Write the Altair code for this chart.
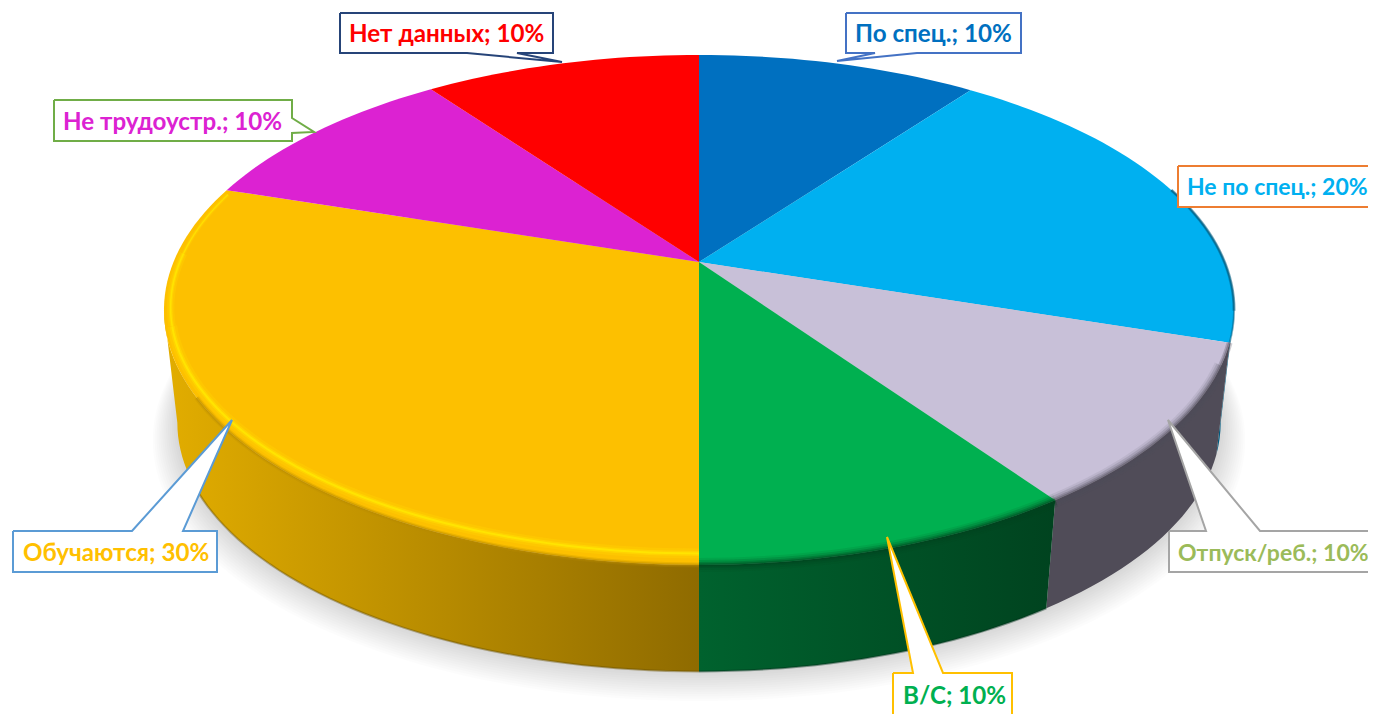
import math
import altair as alt
import pandas as pd

categories = ["По спец.", "Не по спец.", "Отпуск/реб.", "В/С", "Обучаются", "Не трудоустр.", "Нет данных"]
label_values = [10, 20, 10, 10, 30, 10, 10]
shares = [10.14, 19.86, 10.28, 9.72, 30.0, 10.0, 10.0]
face_colors = ["#0070c0", "#00b0f0", "#c8c0d8", "#00b050", "#fdc000", "#dc22d2", "#ff0000"]
wall_left = ["#005a9a", "#005c80", "#504c58", "#00622e", "#e2ad00", "#8a1a80", "#a00000"]
wall_right = ["#005a9a", "#005c80", "#504c58", "#00431f", "#8f6b00", "#8a1a80", "#a00000"]
text_colors = ["#0070c0", "#00b0f0", "#9bbb59", "#00b050", "#ffc000", "#dc22d2", "#ff0000"]
box_colors = ["#4472c4", "#ed7d31", "#a5a5a5", "#ffc000", "#5b9bd5", "#70ad47", "#264478"]

# Layout of the callouts: outline (box + pointer), text start and size
callouts = [
    [(846, 13), (1021, 13), (1021, 53), (917, 53), (837, 61), (875, 53), (846, 53)],
    [(1178, 166), (1380, 166), (1380, 207), (1178, 207)],
    [(1169, 531), (1206, 531), (1168, 420), (1260, 531), (1380, 531), (1380, 572), (1169, 572)],
    [(893, 673), (913, 673), (887, 537), (943, 673), (1012, 673), (1012, 720), (893, 720)],
    [(13, 531), (132, 531), (232, 420), (183, 531), (217, 531), (217, 572), (13, 572)],
    [(54, 100), (292, 100), (292, 118), (314, 132), (292, 133), (292, 141), (54, 141)],
    [(340, 13), (553, 13), (553, 53), (517, 53), (562, 62), (467, 53), (340, 53)],
]
text_x = [855, 1187, 1178, 903, 23, 63, 349]
text_y = [34.5, 188, 553.5, 696.5, 553.5, 122.5, 34.5]
text_size = [24.2, 23, 23, 24.2, 24.2, 24.2, 24.2]

# Perspective of the disc
CX, CY, A, B, P = 699, 262, 525.5, 246, 0.188
WALL_S, WALL_D = 0.975, 114
# angle of the outermost point of the disc on each side
SIDE = math.degrees(math.acos(-P))


def project(deg, r=1.0, s=1.0, dy=0.0):
    t = math.radians(deg)
    u, v = r * math.sin(t), r * math.cos(t)
    w = 1 + P * v
    return CX + A * s * u / w, CY + dy - B * s * v / w


def arc(d0, d1, r=1.0, s=1.0, dy=0.0, front_lift=0.0):
    n = max(2, int(abs(d1 - d0) / 1.5) + 1)
    out = []
    for i in range(n):
        d = d0 + (d1 - d0) * i / (n - 1)
        lift = front_lift * max(0.0, -math.cos(math.radians(d)))
        out.append(project(d, r, s, dy - lift))
    return out


XS = alt.X("x:Q", scale=alt.Scale(domain=[8, 1368], nice=False, zero=False), axis=None)
YS = alt.Y("y:Q", scale=alt.Scale(domain=[714, 8], nice=False, zero=False), axis=None)


def frame(points):
    return pd.DataFrame([{"x": x, "y": y, "i": i} for i, (x, y) in enumerate(points)])


def poly(points, **mark):
    return alt.Chart(frame(points)).mark_line(clip=True, **mark).encode(x=XS, y=YS, order=alt.Order("i:Q"))


layers = []

# soft shadow under the disc
for k in range(13, 0, -1):
    pts = arc(0, 360, 1.0 + k * 0.0035, WALL_S, WALL_D + k * 1.0)
    layers.append(poly(pts + pts[:1], fill="#000000", fillOpacity=0.012, strokeWidth=0, opacity=1))

total = sum(shares)
starts = []
cum = 0
for v in shares:
    starts.append(cum)
    cum += v
spans = [(s / total * 360, (s + v) / total * 360) for s, v in zip(starts, shares)]

# side wall: only the part of each slice's rim that faces the viewer
for idx in range(len(shares)):
    d0, d1 = max(spans[idx][0], SIDE), min(spans[idx][1], 360 - SIDE)
    if d1 <= d0:
        continue
    pts = arc(d0, d1) + arc(d1, d0, 1.0, WALL_S, WALL_D)
    grad = alt.LinearGradient(
        gradient="linear", x1=0, x2=1, y1=0, y2=0,
        stops=[alt.GradientStop(offset=0, color=wall_left[idx]),
               alt.GradientStop(offset=1, color=wall_right[idx])],
    )
    layers.append(poly(pts + pts[:1], fill=grad, strokeWidth=0))

# darker lower edge of the wall
for d0, d1, col in [(180, 245, "#6b5200"), (145, 180, "#00301a")]:
    layers.append(poly(arc(d0, d1, 1.0, WALL_S, WALL_D), stroke=col, strokeWidth=2, strokeOpacity=0.45))

# top face
for idx in range(len(shares)):
    d0, d1 = spans[idx]
    pts = [(CX, CY)] + arc(d0, d1)
    layers.append(poly(pts + pts[:1], fill=face_colors[idx], strokeWidth=0))

# bevel: soft band between face and wall
soft = [(14, 0.1), (10, 0.18), (6, 0.28), (3, 0.4)]
bands = [
    (72, 101, "#005c80", [(3, 0.5), (1.5, 0.7)]),
    (101, 108, "#005c80", [(2, 0.5)]),
    (108, 113, "#504c58", [(6, 0.28), (3, 0.4)]),
    (113, 145, "#504c58", soft),
    (145, 180, "#00431f", soft),
    (180, 240, "#b88a00", [(5, 0.25), (2.5, 0.45)]),
]
for d0, d1, col, strokes in bands:
    for w, o in strokes:
        layers.append(poly(arc(d0, d1), stroke=col, strokeWidth=w, strokeOpacity=o))

# bright rim on the gold slice, thinning towards its far end
rim = [(180, 255, 1.0), (255, 272, 0.75), (272, 287, 0.4)]
for d0, d1, f in rim:
    for w, o, col in [(10, 0.6, "#ffcc00"), (5, 0.7, "#ffd800"), (2, 0.9, "#ffe600")]:
        layers.append(poly(arc(d0, d1, 0.988, front_lift=7), stroke=col, strokeWidth=w * f, strokeOpacity=o))

# callouts
for idx, pts in enumerate(callouts):
    layers.append(poly(list(pts) + [pts[0]], fill="#ffffff", stroke=box_colors[idx], strokeWidth=2))

labels = pd.DataFrame({
    "x": text_x, "y": text_y, "c": text_colors, "s": text_size,
    "t": [f"{c}; {v}%" for c, v in zip(categories, label_values)],
})
layers.append(
    alt.Chart(labels)
    .mark_text(font="Lato", fontWeight="bold", align="left", baseline="middle", clip=True)
    .encode(x=XS, y=YS, text="t:N", color=alt.Color("c:N", scale=None), size=alt.Size("s:Q", scale=None))
)

chart = (
    alt.layer(*layers)
    .properties(width=1360, height=706, padding=0, autosize=alt.AutoSizeParams(type="none"), background="#ffffff")
    .configure_view(stroke=None)
)
chart.save("out.html", embed_options={"renderer": "svg", "actions": False})
